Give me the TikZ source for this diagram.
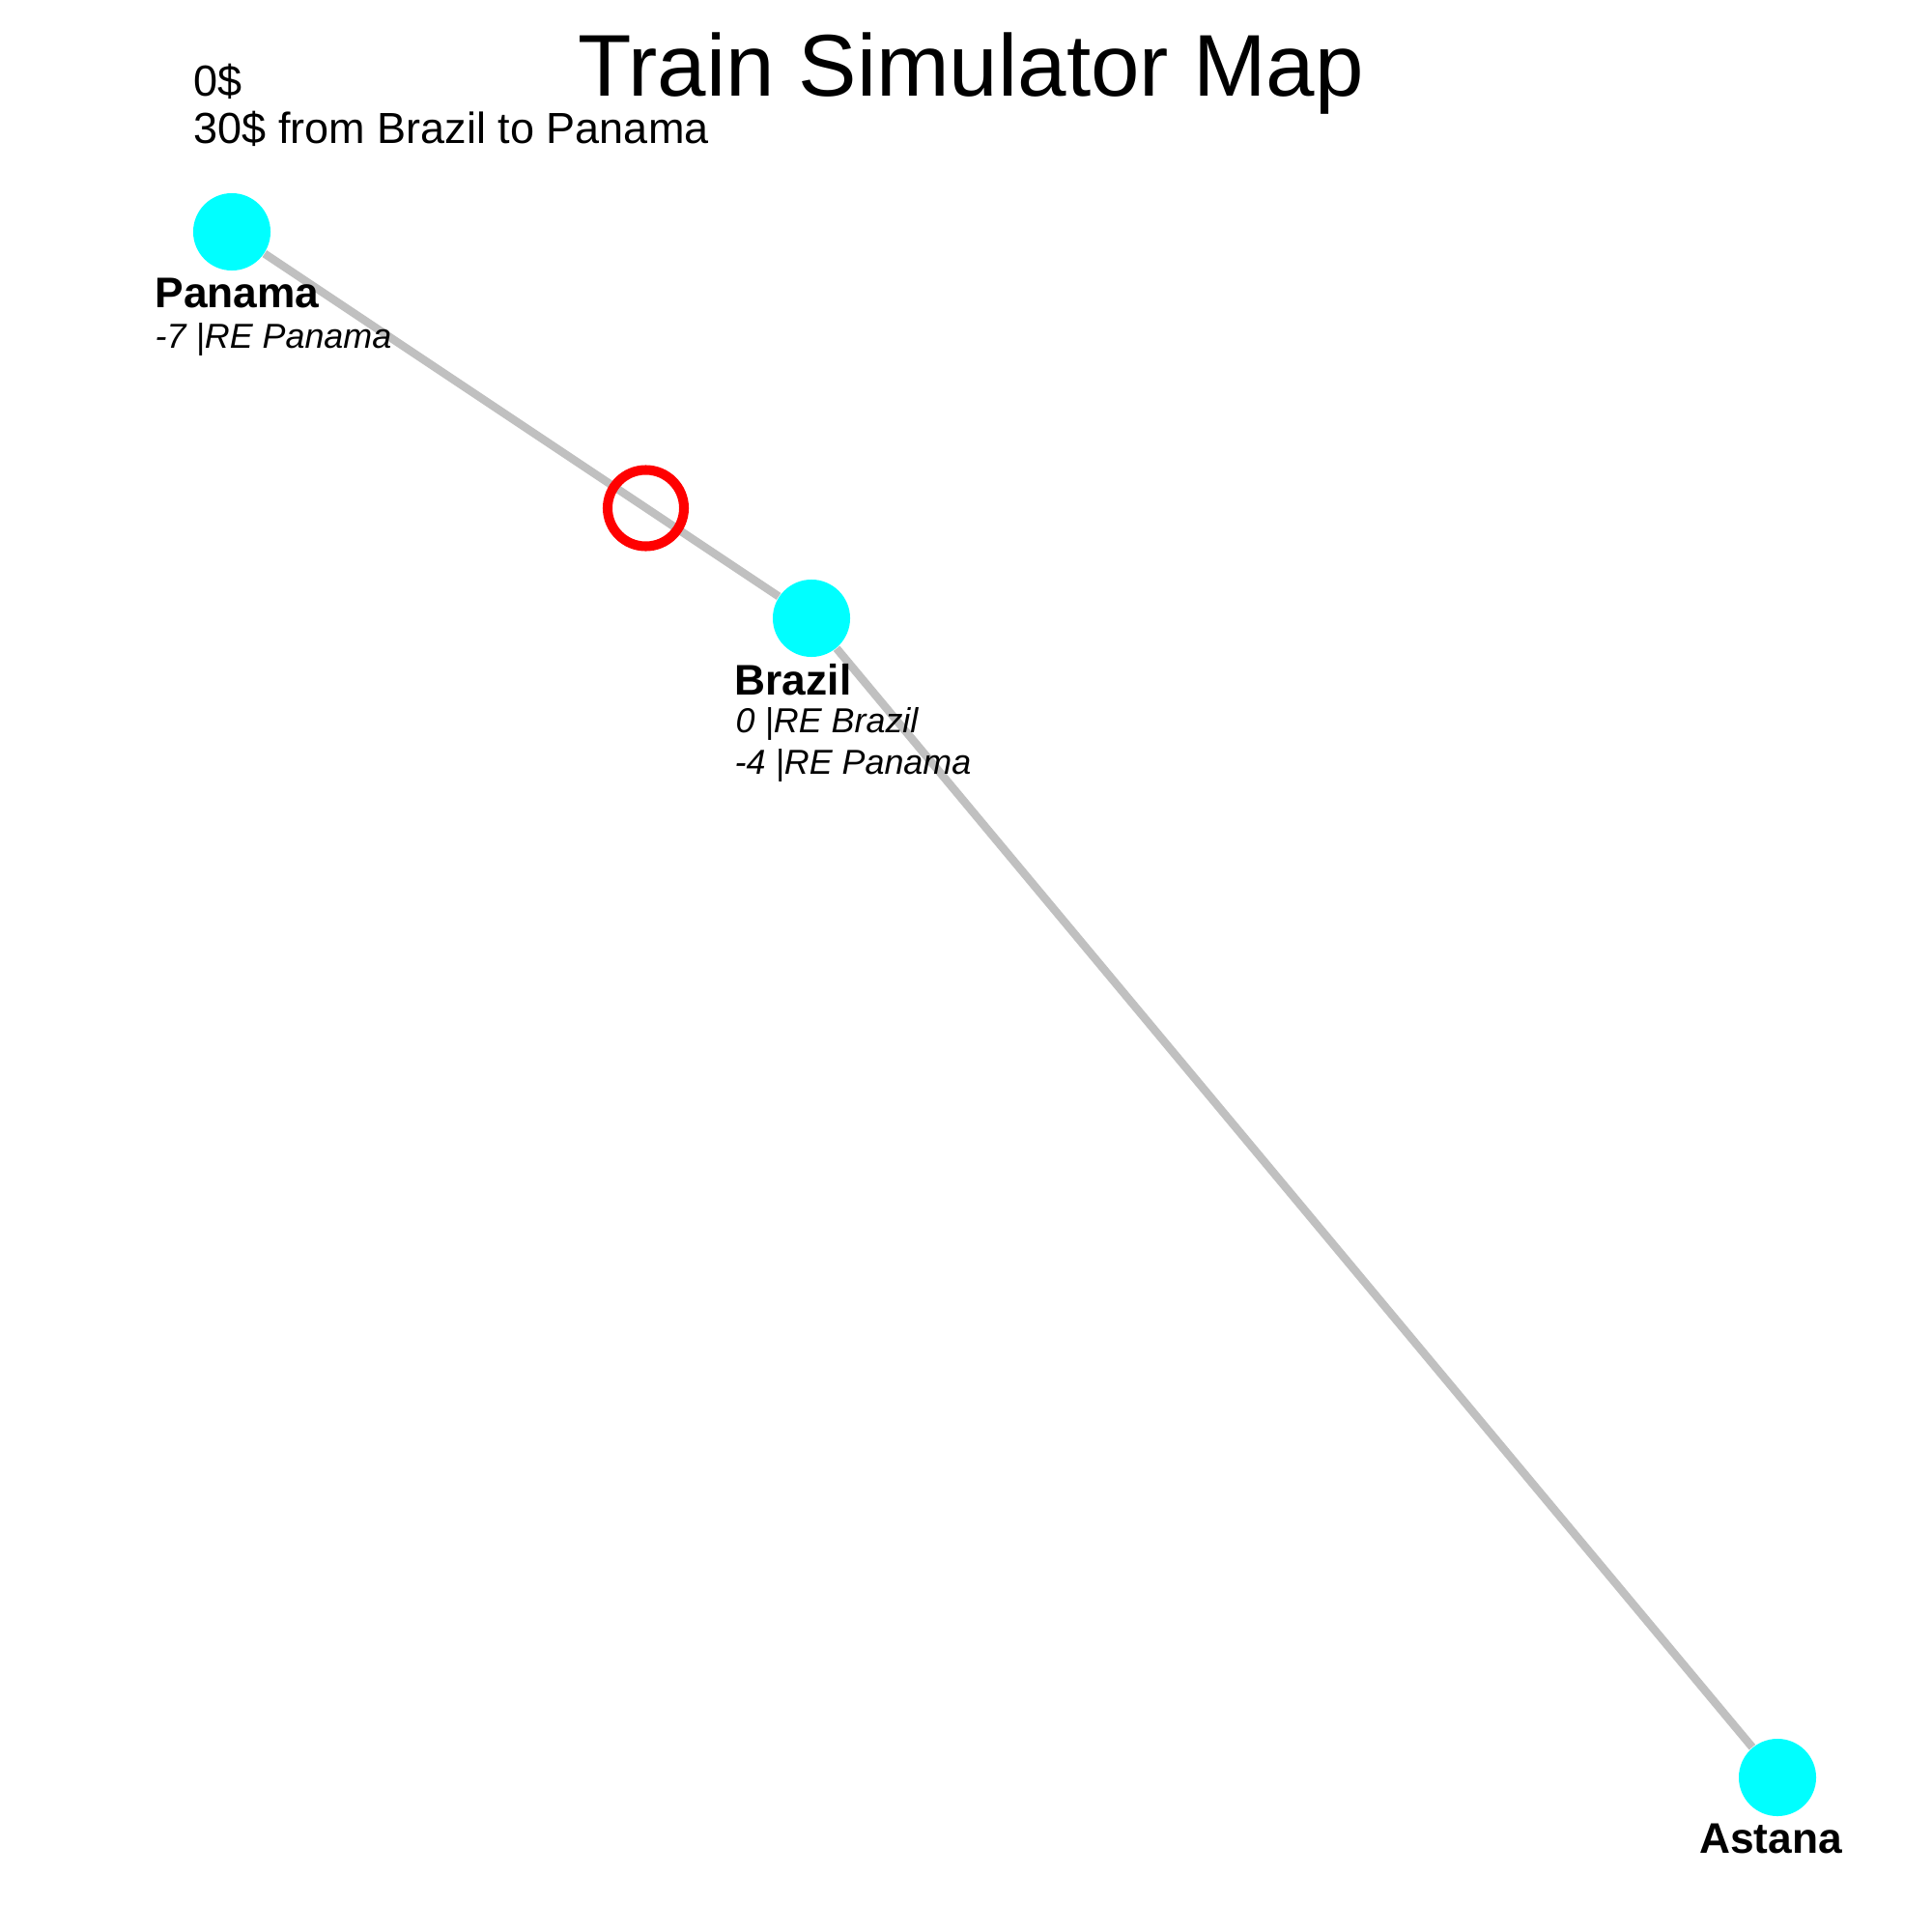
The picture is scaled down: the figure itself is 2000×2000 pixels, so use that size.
\documentclass[tikz,border=0pt]{standalone}
\usepackage{fontspec}
\setmainfont{Liberation Sans}
\usetikzlibrary{positioning, backgrounds}
\definecolor{aqua}{RGB}{0,255,255}
\definecolor{railgray}{RGB}{192,192,192}

\begin{document}
\begin{tikzpicture}[x=0.01cm, y=-0.01cm,
			station/.style = {circle, fill=aqua, minimum size=0.8cm, inner sep=0pt},
			train/.style   = {circle, draw=red, line width=2.85pt, minimum size=0.79cm, inner sep=0pt},
			track/.style   = {draw=railgray, line width=2.4pt},
			cityname/.style = {anchor=base west, inner sep=0pt, font=\fontsize{12.6}{15}\selectfont\bfseries},
			cityinfo/.style = {anchor=base west, inner sep=0pt, font=\fontsize{10.2}{12}\selectfont\itshape},
			money/.style = {anchor=base west, inner sep=0pt, font=\fontsize{12.8}{15}\selectfont}]
			
			\useasboundingbox (0,0) rectangle (2000,2000);
			
			\node[anchor=base, inner sep=0pt, font=\fontsize{25.8}{30}\selectfont] (title) at (1005,100) {Train Simulator Map};
			\node[money] (cash) at (200,100) {0\$};
			\node[money] (fare) at (200,149) {30\$ from Brazil to Panama};
			
			\node[station] (panama) at (240,240) {};
			\node[station] (brazil) at (840,640) {};
			\node[station] (astana) at (1840,1840) {};
			\node[train] (loco) at (668.5,526) {};
			
			\node[cityname] (panamaname) at (160,318) {Panama};
			\node[cityinfo] (panama1) at (160,360) {-7 |RE Panama};
			
			\node[cityname] (brazilname) at (760,719) {Brazil};
			\node[cityinfo] (brazil1) at (761,758) {0 |RE Brazil};
			\node[cityinfo] (brazil2) at (760,801) {-4 |RE Panama};
			
			\node[cityname, anchor=base] (astananame) at (1833,1918) {Astana};
			
			\begin{scope}[on background layer]
				\foreach \from/\to in {panama/brazil, brazil/astana}
				\draw[track] (\from) -- (\to);
			\end{scope}
		\end{tikzpicture}
\end{document}
